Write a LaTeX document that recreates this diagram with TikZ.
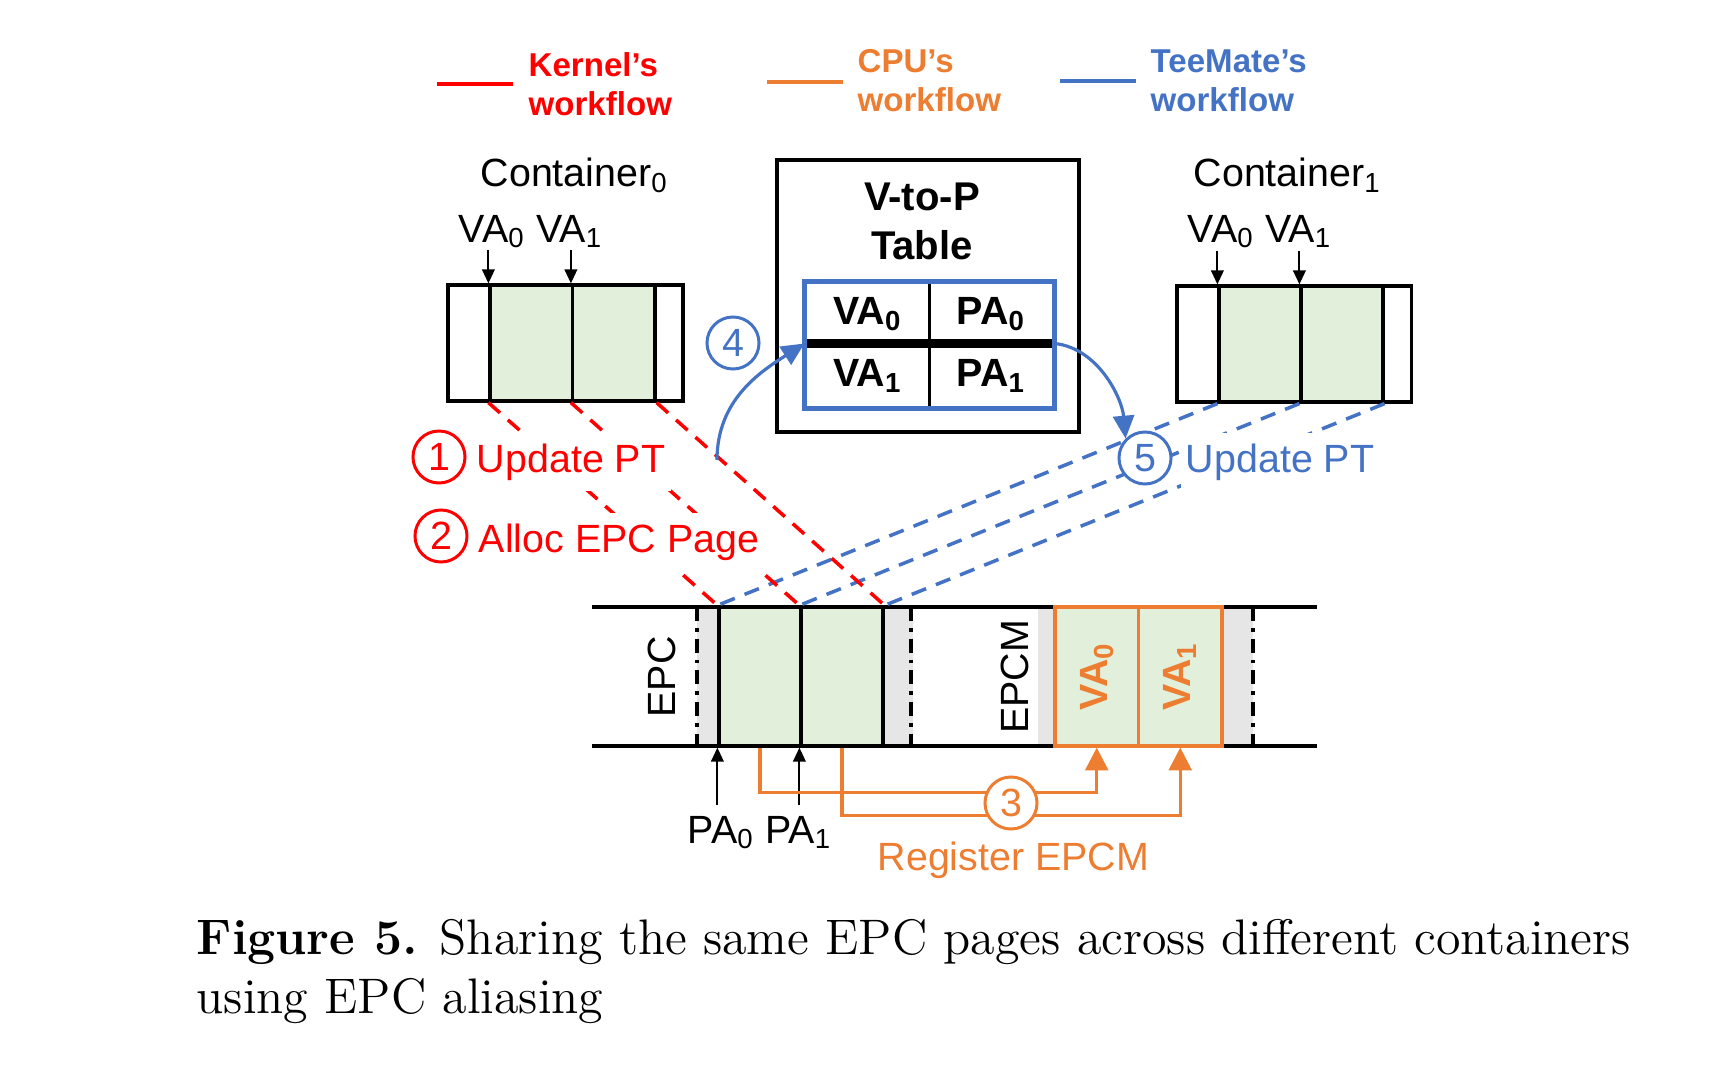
\documentclass[tikz,border=0pt]{standalone}
\usepackage{fontspec}
\setsansfont{Liberation Sans}
\usepackage{tikz}
\usetikzlibrary{arrows.meta,positioning,calc}
\definecolor{kred}{HTML}{FF0000}
\definecolor{corange}{HTML}{ED7D31}
\definecolor{tblue}{HTML}{4472C4}
\definecolor{pgreen}{HTML}{E2EFDA}
\definecolor{bgray}{HTML}{E6E6E6}
\newcommand{\idx}[1]{\textsubscript{#1}}

\begin{document}
\begin{tikzpicture}[x=0.01cm, y=-0.01cm,
  font=\sffamily\fontsize{11.2}{13.4}\selectfont,
  slot/.style={rectangle, draw, line width=0.9pt, inner sep=0pt,
               minimum height=1.16cm},
  page/.style={slot, fill=pgreen, minimum width=0.825cm},
  epcpage/.style={page, minimum width=0.82cm, minimum height=1.39cm},
  epcm/.style={epcpage, draw=corange, minimum width=0.835cm},
  cell/.style={rectangle, draw, line width=0.85pt, inner sep=0pt,
               minimum width=1.235cm, minimum height=0.62cm,
               font=\sffamily\bfseries\fontsize{11.2}{13.4}\selectfont},
  num/.style={circle, draw, line width=0.85pt, fill=white, inner sep=0pt,
              minimum size=0.52cm},
  txt/.style={anchor=base west, inner sep=0pt},
  tag/.style={anchor=base west, fill=white, inner xsep=1.5pt, inner ysep=3pt},
  legend/.style={anchor=base west, inner sep=0pt, align=left,
                 font=\sffamily\bfseries\fontsize{9.4}{11.1}\selectfont},
  kdash/.style={kred, line width=1pt, dash pattern=on 4.4pt off 3pt},
  tdash/.style={tblue, line width=1pt, dash pattern=on 4.4pt off 3pt},
  dashdot/.style={line width=0.9pt, dash pattern=on 4pt off 2pt on 1pt off 2pt},
  parr/.style={-{Triangle[length=4pt,width=3.6pt]}, line width=0.55pt},
  barr/.style={-{Triangle[length=6.5pt,width=6pt]}, tblue, line width=0.9pt},
  oarr/.style={-{Triangle[length=6.5pt,width=6.5pt]}, corange, line width=0.95pt},
]
  \useasboundingbox (0,0) rectangle (1730,1070);

  % EPC band
  \fill[bgray] (697,607) rectangle (719,746);
  \fill[bgray] (883,607) rectangle (913,746);
  \fill[bgray] (1038,607) rectangle (1055,746);
  \fill[bgray] (1222,607) rectangle (1253,746);
  \draw[line width=0.9pt] (592,607) -- (1317,607);
  \draw[line width=0.9pt] (592,746) -- (1317,746);
  \foreach \x in {697,911,1253}
    \draw[dashdot] (\x,607) -- (\x,746);
  \node[epcpage] (e0) at (760,676.5) {};
  \node[epcpage] (e1) at (842,676.5) {};
  \node[epcm] (m0) at (1096.75,676.5) {};
  \node[epcm] (m1) at (1180.25,676.5) {};
  \node[rotate=90] (lepc) at (662,677) {EPC};
  \node[rotate=90] (lepcm) at (1015,677) {EPCM};
  \node[rotate=90, text=corange, font=\sffamily\bfseries\fontsize{11.2}{13.4}\selectfont]
    at (m0.center) {VA\idx{0}};
  \node[rotate=90, text=corange, font=\sffamily\bfseries\fontsize{11.2}{13.4}\selectfont]
    at (m1.center) {VA\idx{1}};

  % containers
  \node[slot, minimum width=2.35cm] (c0) at (565.5,343) {};
  \node[page] (c0a) at (531.25,343) {};
  \node[page] (c0b) at (613.75,343) {};
  \node[slot, minimum width=2.34cm] (c1) at (1294,344) {};
  \node[page, minimum width=0.82cm] (c1a) at (1260,344) {};
  \node[page, minimum width=0.82cm] (c1b) at (1342,344) {};
  \node[txt] (lc0) at (480,187) {Container\idx{0}};
  \node[txt] (lc1) at (1193,187) {Container\idx{1}};
  \node[txt] (lva0) at (458,242) {VA\idx{0} VA\idx{1}};
  \node[txt] (lva1) at (1187,242) {VA\idx{0} VA\idx{1}};
  \node[txt] (lpa) at (687,843) {PA\idx{0} PA\idx{1}};
  \foreach \c in {c0a,c0b,c1a,c1b}
    \draw[parr] ($(\c.north west)+(0,-33)$) -- (\c.north west);
  \foreach \c in {e0,e1}
    \draw[parr] ($(\c.south west)+(0,57)$) -- (\c.south west);

  % page table updates
  \foreach \a/\b in {c1a.south west/e0.north west, c1b.south west/e1.north west,
                     c1b.south east/e1.north east}
    \draw[tdash] (\a) -- (\b);
  \foreach \a/\b in {c0a.south west/e0.north west, c0b.south west/e1.north west,
                     c0b.south east/e1.north east}
    \draw[kdash] (\a) -- (\b);
  \node[num, draw=kred, text=kred] (n1) at (439,457) {1};
  \node[tag, text=kred] (t1) at (471,472) {Update PT};
  \node[num, draw=kred, text=kred] (n2) at (441,536) {2};
  \node[tag, text=kred] (t2) at (473,552) {Alloc EPC Page};
  \node[num, draw=tblue, text=tblue] (n5) at (1145,458) {5};
  \node[tag, text=tblue] (t5) at (1180,472) {Update PT};

  % V-to-P table
  \node[rectangle, draw, line width=0.95pt, minimum width=3.02cm,
        minimum height=2.72cm] (tbl) at (928,296) {};
  \node[anchor=base, align=center, inner sep=0pt,
        font=\sffamily\bfseries\fontsize{11.4}{13.9}\selectfont] (ttl)
    at (922,259) {V-to-P\\Table};
  \node[cell] (va0) at (867.75,314) {VA\idx{0}};
  \node[cell] (pa0) at (991.25,314) {PA\idx{0}};
  \node[cell] (va1) at (867.75,376) {VA\idx{1}};
  \node[cell] (pa1) at (991.25,376) {PA\idx{1}};
  \draw[line width=2.3pt] (va1.north west) -- (pa1.north east);
  \draw[tblue, line width=1.5pt] (va0.north west) rectangle (pa1.south east);
  \node[num, draw=tblue, text=tblue] (n4) at (733,343) {4};
  \coordinate (a4) at (717,460);
  \draw[barr] (a4) .. controls (717,400) and (760,372) .. (va1.north west);
  \draw[barr] (pa1.north east) .. controls (1098,348) and (1122,398) .. (n5.north west);

  % EPCM registration
  \draw[oarr] (e0.south) -- ++(0,45) -| (m0.south);
  \draw[oarr] (e1.south) -- ++(0,68) -| (m1.south);
  \node[num, draw=corange, text=corange] (n3) at (1011,803) {3};
  \node[txt, text=corange] (t3) at (877,870) {Register EPCM};

  % legend
  \draw[kred, line width=1.1pt] (437,84) -- (513,84);
  \node[legend, text=kred] (lk) at (528,116) {Kernel’s\\workflow};
  \draw[corange, line width=1.1pt] (767,82) -- (843,82);
  \node[legend, text=corange] (lo) at (857,112) {CPU’s\\workflow};
  \draw[tblue, line width=1.1pt] (1060,81) -- (1136,81);
  \node[legend, text=tblue] (lt) at (1150,112) {TeeMate’s\\workflow};

  % caption
  \node[txt, align=left, font=\rmfamily\fontsize{14.2}{16.5}\selectfont] (cap)
    at (196,1013) {\textbf{Figure 5.} Sharing the same EPC pages across different containers\\
                  using EPC aliasing};
\end{tikzpicture}
\end{document}
